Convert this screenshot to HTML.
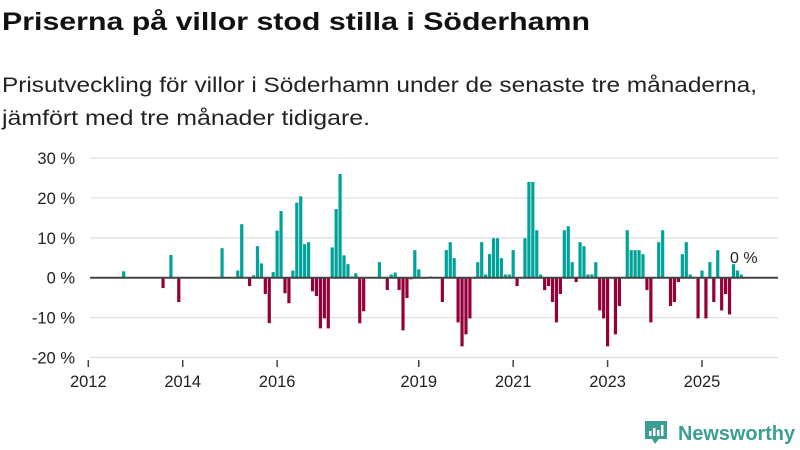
<!DOCTYPE html>
<html><head><meta charset="utf-8"><style>
html,body{margin:0;padding:0;background:#fff;}
svg{display:block;font-family:"Liberation Sans","DejaVu Sans",sans-serif;}
</style></head><body>
<svg id="chart" width="800" height="450" viewBox="0 0 800 450" xmlns="http://www.w3.org/2000/svg">
<text x="2" y="30" font-size="25" font-weight="bold" fill="#111" textLength="588" lengthAdjust="spacingAndGlyphs">Priserna på villor stod stilla i Söderhamn</text>
<text x="2" y="92" font-size="21" fill="#222" textLength="755" lengthAdjust="spacingAndGlyphs">Prisutveckling för villor i Söderhamn under de senaste tre månaderna,</text>
<text x="2" y="125" font-size="21" fill="#222" textLength="368" lengthAdjust="spacingAndGlyphs">jämfört med tre månader tidigare.</text>
<g id="grid"></g>
<g id="bars"></g>
<g id="axes"></g>
<text x="730" y="263" font-size="16" fill="#222">0 %</text>
<g>
<path d="M645 421 h22 v18 h-8 l-4 5 l-3 -5 h-7 z" fill="#3a9e92"/>
<rect x="649" y="431" width="2.5" height="5" fill="#fff"/>
<rect x="653" y="428" width="2.5" height="8" fill="#fff"/>
<rect x="657" y="430" width="2.5" height="6" fill="#fff"/>
<rect x="661" y="425" width="2.5" height="11" fill="#fff"/>
<text x="678" y="440" font-size="20" font-weight="bold" fill="#3a9e92" textLength="117" lengthAdjust="spacingAndGlyphs">Newsworthy</text>
</g>
</svg>
<script>
// month index from Jan 2012 (0 = 2012-01)
const months = [9,19,21,23,34,38,39,41,42,43,44,45,46,47,48,49,50,51,52,53,54,55,56,57,58,59,60,61,62,63,64,65,66,67,68,69,70,74,76,77,78,79,80,81,82,83,84,87,90,91,92,93,94,95,96,97,99,100,101,102,103,104,105,106,107,108,109,111,112,113,114,115,116,117,118,119,120,121,122,123,124,125,126,127,128,129,130,131,132,134,135,137,138,139,140,141,142,143,145,146,148,149,150,151,152,153,155,156,157,158,159,160,161,162,163,164,165,166];
const values = [1.6,-2.6,5.7,-6.1,7.4,1.8,13.4,-2.1,0.6,7.9,3.6,-4.1,-11.4,1.4,11.8,16.7,-3.9,-6.4,1.8,18.8,20.4,8.4,8.9,-3.4,-4.6,-12.7,-10.2,-12.7,7.6,17.2,26,5.6,3.4,0.3,1.1,-11.4,-8.4,3.9,-3.1,0.8,1.3,-3.1,-13.2,-5.1,-0.4,6.9,2.1,0.3,-6.1,6.9,8.9,4.9,-11.2,-17.2,-14.2,-10.2,3.9,8.9,0.8,5.9,9.9,9.9,4.9,0.8,0.8,6.9,-2.1,9.9,24,24,11.9,0.8,-3.1,-2.1,-6.1,-11.2,-4.1,11.9,12.9,3.9,-1.1,8.9,7.9,0.8,0.8,3.9,-8.2,-10.2,-17.2,-14.2,-7.1,11.9,6.9,6.9,6.9,5.9,-3.1,-11.2,8.9,11.9,-7.1,-6.1,-1.1,5.9,8.9,0.8,-10.2,1.8,-10.2,3.9,-6.1,6.9,-8.2,-4.1,-9.2,3.4,1.8,0.8];
const yTicks = [30,20,10,0,-10,-20];
const xTickYears = [2012,2014,2016,2019,2021,2023,2025];
const NS="http://www.w3.org/2000/svg";
const x = m => 88.3 + m*3.934;
const y = v => 277.7 - v*3.99;
const grid=document.getElementById('grid'), bars=document.getElementById('bars'), axes=document.getElementById('axes');
function mk(tag, attrs, parent){const e=document.createElementNS(NS,tag);for(const k in attrs)e.setAttribute(k,attrs[k]);parent.appendChild(e);return e;}
yTicks.forEach(t=>{
  if(t!==0){
    const l=mk('line',{x1:90,x2:778,y1:y(t),y2:y(t),stroke:'#e0e0e0','stroke-width':1.3},grid);
    
    
  }
  const tx=mk('text',{x:75,y:y(t)+6,'font-size':16.5,fill:'#222','text-anchor':'end'},axes);
  tx.textContent=t+' %';
  
  
});
months.forEach((m,i)=>{
  const v=values[i];
  const r=mk('rect',{x:x(m)-1.6,width:3.2,y:Math.min(y(v),y(0)),height:Math.abs(y(v)-y(0)),fill:v>=0?'#00a39a':'#950039'},bars);
  
  
});
const base=mk('line',{x1:90,x2:778,y1:y(0),y2:y(0),stroke:'#444','stroke-width':2},axes);


xTickYears.forEach(yr=>{
  const px=x((yr-2012)*12);
  const tk=mk('line',{x1:px,x2:px,y1:360,y2:367,stroke:'#444','stroke-width':1.5},axes);
  
  
  const tl=mk('text',{x:px,y:387,'font-size':16.5,fill:'#222','text-anchor':'middle'},axes);
  tl.textContent=yr;
  
  
});
</script>
</body></html>
